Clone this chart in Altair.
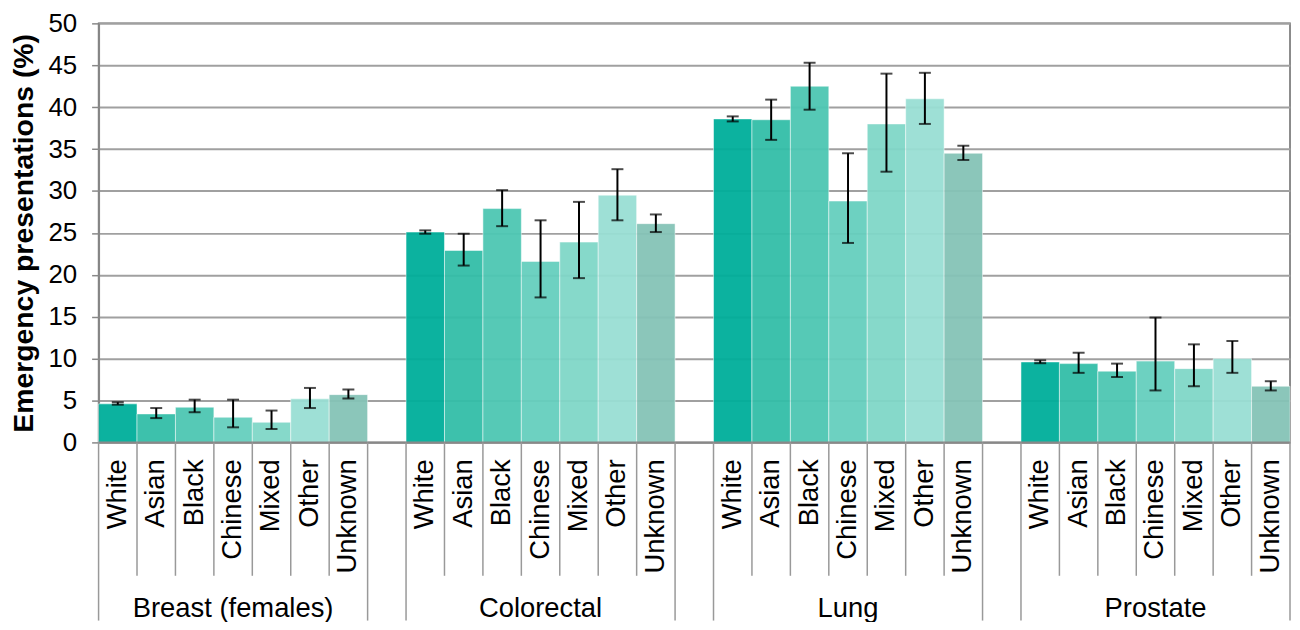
import altair as alt
import pandas as pd

cancers = ["Breast (females)", "Colorectal", "Lung", "Prostate"]
ethnicities = ["White", "Asian", "Black", "Chinese", "Mixed", "Other", "Unknown"]
colors = ["#00AE9A", "#33BEA8", "#4DC7B3", "#66CFBE", "#80D7C8", "#99DFD4", "#85C3B7"]

values = {
    "Breast (females)": [4.6, 3.4, 4.2, 3.0, 2.4, 5.2, 5.7],
    "Colorectal": [25.1, 22.9, 27.9, 21.6, 23.9, 29.5, 26.1],
    "Lung": [38.6, 38.5, 42.5, 28.8, 38.0, 41.0, 34.5],
    "Prostate": [9.6, 9.4, 8.5, 9.7, 8.8, 10.0, 6.7],
}
lower = {
    "Breast (females)": [4.5, 2.9, 3.6, 1.8, 1.6, 4.1, 5.25],
    "Colorectal": [24.9, 21.1, 25.8, 17.3, 19.6, 26.5, 25.1],
    "Lung": [38.3, 36.1, 39.7, 23.8, 32.3, 38.0, 33.7],
    "Prostate": [9.45, 8.3, 7.8, 6.2, 6.7, 8.3, 6.2],
}
upper = {
    "Breast (females)": [4.8, 4.1, 5.1, 5.1, 3.8, 6.5, 6.3],
    "Colorectal": [25.3, 24.9, 30.1, 26.5, 28.7, 32.6, 27.2],
    "Lung": [38.9, 40.9, 45.3, 34.5, 44.0, 44.1, 35.4],
    "Prostate": [9.8, 10.7, 9.4, 14.9, 11.7, 12.1, 7.3],
}

FONT = "Liberation Sans"
GROUP_SLOTS = len(ethnicities) + 1
N_SLOTS = GROUP_SLOTS * len(cancers) - 1

PLOT_H = 421
TOP = 14

rows = []
for g, c in enumerate(cancers):
    for e, eth in enumerate(ethnicities):
        s = g * GROUP_SLOTS + e
        rows.append(dict(cancer=c, eth=eth, x0=s, x1=s + 1, xc=s + 0.5,
                         v=values[c][e], lo=lower[c][e], hi=upper[c][e]))
df = pd.DataFrame(rows)

groups = pd.DataFrame([dict(cancer=c, xc=g * GROUP_SLOTS + len(ethnicities) / 2)
                       for g, c in enumerate(cancers)])
short_b = pd.DataFrame([dict(p=g * GROUP_SLOTS + k) for g in range(len(cancers))
                        for k in range(1, len(ethnicities))])
long_b = pd.DataFrame([dict(p=g * GROUP_SLOTS + k) for g in range(len(cancers))
                       for k in (0, len(ethnicities))])

xs = alt.Scale(domain=[0, N_SLOTS], nice=False, zero=False)
ys = alt.Scale(domain=[0, 50], nice=False)

base = alt.Chart(df)

bars = base.mark_bar(stroke="white", strokeWidth=1, strokeOpacity=0.5, opacity=0.95).encode(
    x=alt.X("x0:Q", scale=xs, axis=None),
    x2="x1:Q",
    y=alt.Y("v:Q", scale=ys, axis=alt.Axis(
        values=list(range(0, 51, 5)), title="Emergency presentations (%)",
        labelFont=FONT, labelFontSize=26, labelColor="black", labelPadding=15,
        tickSize=7, tickColor="#888888", tickWidth=1.5,
        domainColor="#888888", domainWidth=2,
        grid=True, gridColor="#a0a0a0", gridWidth=2,
        titleFont=FONT, titleFontSize=28.5, titleFontWeight="bold", titleColor="black",
        titleAngle=270, titleX=-75, titleY=PLOT_H / 2, titleAlign="center",
        titleBaseline="middle")),
    y2=alt.datum(0),
    color=alt.Color("eth:N", scale=alt.Scale(domain=ethnicities, range=colors), legend=None),
)

err = base.mark_rule(color="black", strokeWidth=2).encode(
    x=alt.X("xc:Q", scale=xs), y=alt.Y("lo:Q", scale=ys), y2="hi:Q")
cap_lo = base.mark_tick(color="black", orient="horizontal", size=12, thickness=2).encode(
    x=alt.X("xc:Q", scale=xs), y=alt.Y("lo:Q", scale=ys))
cap_hi = base.mark_tick(color="black", orient="horizontal", size=12, thickness=2).encode(
    x=alt.X("xc:Q", scale=xs), y=alt.Y("hi:Q", scale=ys))

baseline = alt.Chart(pd.DataFrame({"a": [0]})).mark_rule(color="#888888", strokeWidth=2).encode(
    x=alt.datum(0, scale=xs), x2=alt.datum(N_SLOTS), y=alt.datum(0, scale=ys))

short_lines = alt.Chart(short_b).mark_rule(color="#999999", strokeWidth=1.5).encode(
    x=alt.X("p:Q", scale=xs), y=alt.value(PLOT_H), y2=alt.value(577 - 8 - TOP))
long_lines = alt.Chart(long_b).mark_rule(color="#999999", strokeWidth=1.5).encode(
    x=alt.X("p:Q", scale=xs), y=alt.value(PLOT_H), y2=alt.value(622 - 8 - TOP))

eth_text = base.mark_text(font=FONT, fontSize=27.5, color="black", angle=270,
                          align="right", baseline="middle").encode(
    x=alt.X("xc:Q", scale=xs), y=alt.value(460 - 8 - TOP), text="eth:N")

grp_text = alt.Chart(groups).mark_text(font=FONT, fontSize=27.5, color="black",
                                       align="center", baseline="middle").encode(
    x=alt.X("xc:Q", scale=xs), y=alt.value(610 - 8 - TOP), text="cancer:N")

chart = alt.layer(bars, err, cap_lo, cap_hi, baseline, short_lines, long_lines,
                  eth_text, grp_text).properties(
    width=1197, height=PLOT_H,
    autosize=alt.AutoSizeParams(type="none"),
    padding={"left": 91, "top": TOP, "right": 2, "bottom": 622 - 8 - TOP - PLOT_H},
).configure_view(stroke="#666666", strokeWidth=1.5)

chart.save("out.html", embed_options={"renderer": "svg", "actions": False})
